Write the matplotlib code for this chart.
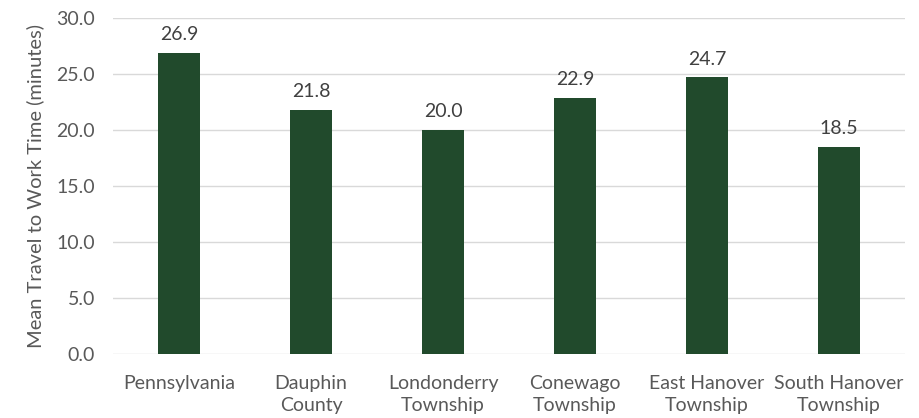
import matplotlib.pyplot as plt

places = ["Pennsylvania", "Dauphin\nCounty", "Londonderry\nTownship", "Conewago\nTownship",
          "East Hanover\nTownship", "South Hanover\nTownship"]
travel_minutes = [26.9, 21.8, 20.0, 22.9, 24.7, 18.5]
y_ticks = [0, 5, 10, 15, 20, 25, 30]

plt.rcParams['font.family'] = ['Lato', 'DejaVu Sans']
text_color = '#595959'

fig = plt.figure(figsize=(9.2, 4.18), dpi=100)
ax = fig.add_axes([0.1228, 0.153, 0.861, 0.804])

x = range(len(places))
bars = ax.bar(x, travel_minutes, width=0.32, color='#214A2C', zorder=3)
for b, v in zip(bars, travel_minutes):
    ax.annotate(f"{v:.1f}", (b.get_x() + b.get_width() / 2, v), xytext=(0, 7),
                textcoords='offset points', ha='center', va='bottom',
                fontsize=14, color='#404040')

ax.set_xlim(-0.5, len(places) - 0.5)
ax.set_ylim(0, 30)
ax.set_yticks(y_ticks)
ax.set_yticklabels([f"{t:.1f}" for t in y_ticks])
ax.set_xticks(list(x))
ax.set_xticklabels(places, linespacing=1.35)
ax.tick_params(axis='both', length=0, labelsize=14, colors=text_color)
ax.tick_params(axis='x', pad=15)
ax.tick_params(axis='y', pad=13)
ax.yaxis.grid(True, color='#D9D9D9', linewidth=1, zorder=0)
for s in ax.spines.values():
    s.set_visible(False)
ax.set_ylabel("Mean Travel to Work Time (minutes)", fontsize=14.5, color=text_color, labelpad=9)

fig.savefig("out.png", dpi=100)
